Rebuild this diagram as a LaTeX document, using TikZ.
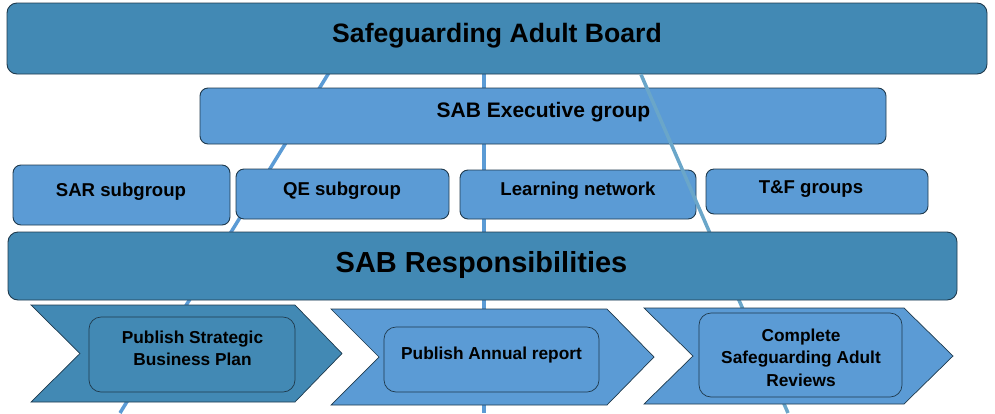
\documentclass[tikz,border=0pt]{standalone}
\usepackage{fontspec}
\setmainfont{Liberation Sans}
\definecolor{darkfill}{HTML}{4289B4}
\definecolor{lightfill}{HTML}{5B9BD5}
\definecolor{edgecol}{HTML}{1F3A4D}
\definecolor{lineAcol}{HTML}{5B9BD5}
\definecolor{lineCcol}{HTML}{6AA6C9}
\begin{document}
\begin{tikzpicture}[x=1pt,y=-1pt,
  dbox/.style={draw=edgecol, line width=0.9pt, fill=darkfill, inner sep=0pt, outer sep=0pt},
  lbox/.style={draw=edgecol, line width=0.9pt, fill=lightfill, inner sep=0pt, outer sep=0pt},
  chev/.style={draw=edgecol, line width=0.7pt},
  bgline/.style={line width=3.5pt},
  lbl/.style={inner sep=0pt, anchor=base, text=black},
  ttl/.style={lbl, font=\bfseries\fontsize{26.6}{30}\selectfont},
  resp/.style={lbl, font=\bfseries\fontsize{29}{33}\selectfont},
  exe/.style={lbl, font=\bfseries\fontsize{21}{25}\selectfont},
  sub/.style={lbl, font=\bfseries\fontsize{18.6}{22}\selectfont},
  task/.style={lbl, align=center, font=\bfseries\fontsize{17.3}{22.5}\selectfont}
]
\useasboundingbox (0,0) rectangle (995,413);

% background lines
\coordinate (a1) at (349,40);
\coordinate (a2) at (120,413);
\coordinate (m1) at (484,40);
\coordinate (m2) at (484,413);
\coordinate (c1) at (641,74.5);
\coordinate (c2) at (788,413);
\draw[bgline, lineAcol] (a1) -- (a2);
\draw[bgline, lineAcol] (m1) -- (m2);

% board
\node[dbox, rounded corners=10pt, minimum width=980pt, minimum height=71pt] (board) at (497,38.5) {};
\node[ttl] (boardT) at (497,42) {Safeguarding Adult Board};

% executive
\node[lbox, rounded corners=8pt, minimum width=686pt, minimum height=56pt] (exec) at (543,116) {};
\node[exe] (execT) at (543.5,117) {SAB Executive group};

% subgroups
\node[lbox, rounded corners=8pt, minimum width=217pt, minimum height=60pt] (sar) at (121.5,195) {};
\node[sub] (sarT) at (121,196) {SAR subgroup};
\node[lbox, rounded corners=8pt, minimum width=213pt, minimum height=50pt] (qe) at (342.5,194) {};
\node[sub] (qeT) at (342,195) {QE subgroup};
\node[lbox, rounded corners=8pt, minimum width=236pt, minimum height=49pt] (learn) at (578,194.5) {};
\node[sub] (learnT) at (578,195) {Learning network};
\node[lbox, rounded corners=8pt, minimum width=222pt, minimum height=45pt] (tf) at (817,191.5) {};
\node[sub] (tfT) at (811,193) {T\&F groups};

\draw[bgline, lineCcol] (c1) -- (c2);

% responsibilities
\node[dbox, rounded corners=10pt, minimum width=949pt, minimum height=68pt] (resp) at (482.5,266) {};
\node[resp] (respT) at (481.5,272) {SAB Responsibilities};

% chevrons
\path[chev, fill=darkfill] (31,305) -- (295,305) -- (342,353.5) -- (295,402) -- (31,402) -- (80,353.5) -- cycle;
\path[chev, fill=lightfill] (331,309) -- (607,309) -- (654,357) -- (607,405) -- (331,405) -- (379,357) -- cycle;
\path[chev, fill=lightfill] (644,308) -- (904,308) -- (953,356) -- (904,404) -- (644,404) -- (693,356) -- cycle;

% task boxes
\node[dbox, rounded corners=12pt, minimum width=206pt, minimum height=75pt, line width=0.7pt] (t1) at (192,354.5) {};
\node[task] (t1T) at (192.5,365.7) {Publish Strategic\\Business Plan};
\node[lbox, rounded corners=12pt, minimum width=215pt, minimum height=65pt, line width=0.7pt] (t2) at (491.5,359.5) {};
\node[task] (t2T) at (491.5,359.3) {Publish Annual report};
\node[lbox, rounded corners=12pt, minimum width=203pt, minimum height=84pt, line width=0.7pt] (t3) at (800.5,355) {};
\node[task] (t3T) at (801,386) {Complete\\Safeguarding Adult\\Reviews};
\end{tikzpicture}
\end{document}
